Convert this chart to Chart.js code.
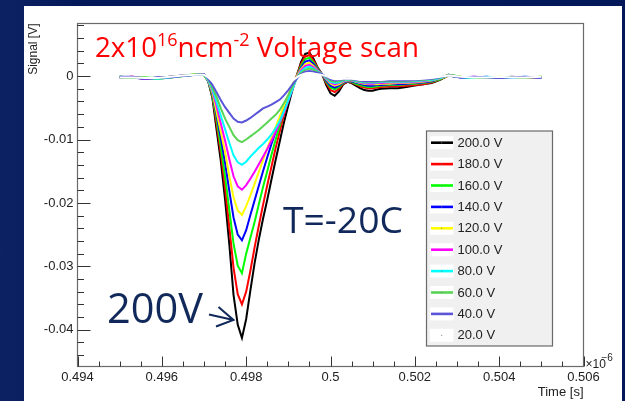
<!DOCTYPE html>
<html>
<head>
<meta charset="utf-8">
<title>Voltage scan</title>
<script src="https://cdn.jsdelivr.net/npm/chart.js@4.4.0/dist/chart.umd.min.js"></script>
<style>
  html, body { margin: 0; padding: 0; background: #03195a; }
  #wrap {
    position: relative; width: 625px; height: 401px; overflow: hidden;
    background: linear-gradient(90deg, #0c2262 0%, #03195a 12%, #021858 100%);
  }
  canvas { position: absolute; left: 0; top: 0; }
</style>
</head>
<body>
<div id="wrap"><canvas id="scanChart" width="625" height="401"></canvas></div>
<script>
// time axis (x10^-6 s), shared by every curve
var times = [0.4950, 0.4953, 0.4956, 0.4959, 0.4962, 0.4965, 0.4968,
  0.4970, 0.4971, 0.4972, 0.4973, 0.4974, 0.4975, 0.4976, 0.4977, 0.4978, 0.4979,
  0.4980, 0.4981, 0.4982, 0.4983, 0.4984, 0.4985, 0.4986, 0.4987, 0.4988, 0.4989, 0.4990, 0.4991, 0.4992,
  0.4993, 0.4994, 0.4995, 0.4996, 0.4997, 0.4998,
  0.4999, 0.5000, 0.5001, 0.5002, 0.5003, 0.5004, 0.5005, 0.5006, 0.5007, 0.5008, 0.5009, 0.5010, 0.5011, 0.5012,
  0.5014, 0.5016, 0.5018, 0.5020, 0.5022, 0.5024, 0.5026, 0.5028, 0.5031, 0.5034, 0.5037, 0.5040, 0.5043, 0.5046, 0.5050];

// signal [V] for each bias voltage
var v200 = [-0.0001, -0.0002, -0.0004, -0.0003, -0.0001, 0.0000, 0.0002,
  0.0002,
  -0.0008, -0.0035, -0.0085, -0.0135, -0.0195, -0.0265, -0.0345, -0.0392, -0.0413,
  -0.0383, -0.0338, -0.0295, -0.0258, -0.0225, -0.0195, -0.0163, -0.0132, -0.0102, -0.0072, -0.0046, -0.0021, 0.0000,
  0.0022, 0.0035, 0.0037, 0.0027, 0.0013, 0.0003,
  -0.0014, -0.0027, -0.0031, -0.0024, -0.0013, -0.0009, -0.0011, -0.0015, -0.0019, -0.0022, -0.0023, -0.0023, -0.0021, -0.0020,
  -0.0019, -0.0019, -0.0017, -0.0015, -0.0013, -0.0011, -0.0006, 0.0001, -0.0002, -0.0003, -0.0002, -0.0003, -0.0002, -0.0003, -0.0002];
var v180 = [-0.0002, -0.0001, -0.0003, -0.0004, -0.0002, 0.0001, 0.0002,
  0.0002,
  -0.0007, -0.0032, -0.0076, -0.0122, -0.0176, -0.0238, -0.0302, -0.0344, -0.0360,
  -0.0340, -0.0307, -0.0270, -0.0236, -0.0203, -0.0172, -0.0143, -0.0113, -0.0086, -0.0060, -0.0037, -0.0016, 0.0001,
  0.0019, 0.0031, 0.0033, 0.0024, 0.0012, 0.0003,
  -0.0011, -0.0022, -0.0025, -0.0020, -0.0012, -0.0009, -0.0010, -0.0013, -0.0016, -0.0018, -0.0019, -0.0019, -0.0018, -0.0017,
  -0.0016, -0.0016, -0.0015, -0.0014, -0.0013, -0.0010, -0.0005, 0.0001, -0.0002, -0.0002, -0.0003, -0.0002, -0.0002, -0.0003, -0.0002];
var v160 = [-0.0001, -0.0003, -0.0002, -0.0004, -0.0002, 0.0000, 0.0003,
  0.0002,
  -0.0008, -0.0031, -0.0068, -0.0112, -0.0159, -0.0211, -0.0264, -0.0299, -0.0311,
  -0.0280, -0.0255, -0.0230, -0.0202, -0.0175, -0.0150, -0.0124, -0.0100, -0.0077, -0.0055, -0.0034, -0.0015, 0.0000,
  0.0016, 0.0027, 0.0029, 0.0021, 0.0011, 0.0003,
  -0.0009, -0.0018, -0.0021, -0.0017, -0.0011, -0.0008, -0.0009, -0.0012, -0.0014, -0.0016, -0.0017, -0.0017, -0.0016, -0.0015,
  -0.0014, -0.0014, -0.0013, -0.0012, -0.0011, -0.0009, -0.0005, 0.0002, -0.0001, -0.0003, -0.0002, -0.0002, -0.0003, -0.0002, -0.0001];
var v140 = [-0.0002, -0.0002, -0.0004, -0.0002, -0.0001, 0.0001, 0.0002,
  0.0003,
  -0.0008, -0.0028, -0.0062, -0.0098, -0.0137, -0.0181, -0.0223, -0.0250, -0.0259,
  -0.0243, -0.0219, -0.0196, -0.0173, -0.0150, -0.0128, -0.0107, -0.0088, -0.0069, -0.0050, -0.0032, -0.0015, 0.0000,
  0.0013, 0.0023, 0.0025, 0.0019, 0.0010, 0.0003,
  -0.0007, -0.0015, -0.0018, -0.0015, -0.0010, -0.0008, -0.0008, -0.0010, -0.0012, -0.0014, -0.0015, -0.0015, -0.0014, -0.0014,
  -0.0013, -0.0013, -0.0012, -0.0011, -0.0010, -0.0008, -0.0004, 0.0002, -0.0002, -0.0002, -0.0001, -0.0003, -0.0002, -0.0002, -0.0002];
var v120 = [-0.0001, -0.0003, -0.0003, -0.0003, -0.0002, 0.0000, 0.0003,
  0.0002,
  -0.0007, -0.0026, -0.0057, -0.0088, -0.0120, -0.0158, -0.0191, -0.0212, -0.0219,
  -0.0205, -0.0188, -0.0170, -0.0151, -0.0132, -0.0114, -0.0097, -0.0080, -0.0063, -0.0046, -0.0030, -0.0014, 0.0000,
  0.0011, 0.0019, 0.0021, 0.0016, 0.0009, 0.0003,
  -0.0005, -0.0012, -0.0015, -0.0013, -0.0009, -0.0007, -0.0007, -0.0009, -0.0011, -0.0012, -0.0013, -0.0013, -0.0013, -0.0012,
  -0.0012, -0.0011, -0.0011, -0.0010, -0.0009, -0.0007, -0.0004, 0.0001, -0.0001, -0.0002, -0.0003, -0.0001, -0.0002, -0.0003, -0.0001];
var v100 = [-0.0002, -0.0001, -0.0004, -0.0003, -0.0001, 0.0001, 0.0002,
  0.0003,
  -0.0006, -0.0023, -0.0048, -0.0075, -0.0102, -0.0131, -0.0158, -0.0174, -0.0179,
  -0.0172, -0.0162, -0.0151, -0.0139, -0.0127, -0.0115, -0.0102, -0.0088, -0.0073, -0.0057, -0.0039, -0.0020, -0.0002,
  0.0009, 0.0016, 0.0018, 0.0014, 0.0008, 0.0003,
  -0.0004, -0.0010, -0.0013, -0.0011, -0.0008, -0.0006, -0.0007, -0.0008, -0.0010, -0.0011, -0.0012, -0.0012, -0.0011, -0.0011,
  -0.0010, -0.0010, -0.0010, -0.0009, -0.0008, -0.0006, -0.0003, 0.0002, -0.0002, -0.0001, -0.0002, -0.0003, -0.0001, -0.0002, -0.0002];
var v80 = [-0.0001, -0.0002, -0.0003, -0.0004, -0.0002, 0.0000, 0.0002,
  0.0002,
  -0.0006, -0.0021, -0.0041, -0.0063, -0.0084, -0.0105, -0.0125, -0.0136, -0.0140,
  -0.0135, -0.0127, -0.0120, -0.0113, -0.0107, -0.0100, -0.0092, -0.0082, -0.0070, -0.0055, -0.0038, -0.0020, -0.0003,
  0.0007, 0.0013, 0.0015, 0.0012, 0.0007, 0.0003,
  -0.0003, -0.0009, -0.0011, -0.0010, -0.0007, -0.0006, -0.0006, -0.0008, -0.0009, -0.0010, -0.0010, -0.0010, -0.0010, -0.0009,
  -0.0009, -0.0009, -0.0009, -0.0008, -0.0007, -0.0006, -0.0003, 0.0001, -0.0002, -0.0003, -0.0001, -0.0002, -0.0003, -0.0001, -0.0002];
var v60 = [-0.0002, -0.0003, -0.0002, -0.0003, -0.0001, 0.0001, 0.0003,
  0.0003,
  -0.0004, -0.0018, -0.0033, -0.0051, -0.0067, -0.0080, -0.0093, -0.0101, -0.0104,
  -0.0100, -0.0095, -0.0090, -0.0085, -0.0079, -0.0073, -0.0067, -0.0061, -0.0053, -0.0042, -0.0030, -0.0016, -0.0003,
  0.0005, 0.0010, 0.0012, 0.0010, 0.0006, 0.0003,
  -0.0002, -0.0007, -0.0009, -0.0008, -0.0006, -0.0005, -0.0006, -0.0007, -0.0008, -0.0009, -0.0009, -0.0009, -0.0009, -0.0008,
  -0.0008, -0.0008, -0.0008, -0.0007, -0.0006, -0.0005, -0.0002, 0.0002, -0.0001, -0.0002, -0.0003, -0.0002, -0.0001, -0.0003, -0.0001];
var v40 = [-0.0001, -0.0001, -0.0004, -0.0002, -0.0002, 0.0000, 0.0002,
  0.0003,
  -0.0004, -0.0014, -0.0026, -0.0038, -0.0049, -0.0058, -0.0067, -0.0072, -0.0073,
  -0.0070, -0.0066, -0.0061, -0.0056, -0.0051, -0.0048, -0.0045, -0.0041, -0.0037, -0.0030, -0.0022, -0.0013, -0.0004,
  0.0003, 0.0007, 0.0008, 0.0007, 0.0005, 0.0003,
  -0.0001, -0.0005, -0.0007, -0.0006, -0.0005, -0.0004, -0.0005, -0.0006, -0.0007, -0.0008, -0.0008, -0.0008, -0.0008, -0.0007,
  -0.0007, -0.0007, -0.0007, -0.0006, -0.0005, -0.0004, -0.0002, 0.0001, -0.0002, -0.0001, -0.0002, -0.0003, -0.0002, -0.0001, -0.0002];
var v20 = [-0.0002, -0.0002, -0.0003, -0.0003, -0.0001, 0.0001, 0.0002,
  0.0002,
  -0.0002, -0.0008, -0.0014, -0.0021, -0.0027, -0.0032, -0.0037, -0.0039, -0.0040,
  -0.0039, -0.0037, -0.0035, -0.0032, -0.0030, -0.0028, -0.0026, -0.0024, -0.0021, -0.0017, -0.0012, -0.0007, -0.0002,
  0.0002, 0.0004, 0.0005, 0.0004, 0.0003, 0.0002,
  0.0000, -0.0003, -0.0005, -0.0005, -0.0004, -0.0004, -0.0004, -0.0005, -0.0006, -0.0006, -0.0006, -0.0006, -0.0006, -0.0006,
  -0.0005, -0.0005, -0.0005, -0.0005, -0.0004, -0.0003, -0.0001, 0.0001, -0.0001, -0.0002, -0.0002, -0.0001, -0.0002, -0.0002, -0.0001];

var seriesLabels = ["200.0 V", "180.0 V", "160.0 V", "140.0 V", "120.0 V", "100.0 V", "80.0 V", "60.0 V", "40.0 V", "20.0 V"];
var seriesValues = [v200, v180, v160, v140, v120, v100, v80, v60, v40, v20];
var seriesColors = ["#000000", "#ff0000", "#00ff00", "#0000ff", "#ffff00", "#ff00ff", "#00ffff", "#59d454", "#5954d8", "#ffffff"];

// axis ticks
var xTickValues = [0.494, 0.496, 0.498, 0.500, 0.502, 0.504, 0.506];
var xTickLabels = ["0.494", "0.496", "0.498", "0.5", "0.502", "0.504", "0.506"];
var yTickValues = [0, -0.01, -0.02, -0.03, -0.04];
var yTickLabels = ["0", "-0.01", "-0.02", "-0.03", "-0.04"];

var NAVY = "#10285a";
var AXIS_FONT = "Liberation Sans, Arial, sans-serif";

// draws text made of normal and superscript pieces, scaled to a given width
function drawRich(ctx, parts, x, baseline, size, width, color) {
  function measure(s) {
    var w = 0;
    parts.forEach(function (p) {
      ctx.font = (p[1] ? s * 0.65 : s) + "px 'Open Sans'";
      w += ctx.measureText(p[0]).width;
    });
    return w;
  }
  var s = size * width / measure(size);
  ctx.fillStyle = color;
  ctx.textAlign = "left";
  ctx.textBaseline = "alphabetic";
  parts.forEach(function (p) {
    ctx.font = (p[1] ? s * 0.65 : s) + "px 'Open Sans'";
    ctx.fillText(p[0], x, p[1] ? baseline - s * 0.4 : baseline);
    x += ctx.measureText(p[0]).width;
  });
}

// ROOT-like frame, inner ticks, legend and slide captions
var rootPad = {
  id: "rootPad",
  beforeDraw: function (chart) {
    var ctx = chart.ctx;
    ctx.save();
    ctx.fillStyle = "#ffffff";
    ctx.fillRect(24, 6, 598, 395);
    ctx.restore();
  },
  afterDraw: function (chart) {
    var ctx = chart.ctx;
    var a = chart.chartArea;
    var xs = chart.scales.x, ys = chart.scales.y;
    ctx.save();

    // frame
    ctx.strokeStyle = "#6a6a6a";
    ctx.lineWidth = 1.2;
    ctx.strokeRect(a.left, a.top, a.right - a.left, a.bottom - a.top);

    // ticks pointing into the frame
    ctx.strokeStyle = "#333";
    ctx.lineWidth = 1;
    ctx.beginPath();
    for (var i = 0; i <= 24; i++) {
      var px = Math.round(xs.getPixelForValue(0.494 + i * 0.0005)) + 0.5;
      var lx = i % 4 === 0 ? 10 : 5;
      ctx.moveTo(px, a.bottom);
      ctx.lineTo(px, a.bottom - lx);
    }
    for (var j = -22; j <= 4; j++) {
      var py = Math.round(ys.getPixelForValue(j * 0.002)) + 0.5;
      var ly = j % 5 === 0 ? 13 : 6.5;
      ctx.moveTo(a.left, py);
      ctx.lineTo(a.left + ly, py);
    }
    ctx.stroke();

    // axis titles and exponent
    ctx.fillStyle = "#222";
    ctx.font = "13px " + AXIS_FONT;
    ctx.textAlign = "right";
    ctx.textBaseline = "middle";
    ctx.fillText("Time [s]", a.right, 392);
    ctx.font = "12px " + AXIS_FONT;
    ctx.textAlign = "left";
    ctx.textBaseline = "alphabetic";
    ctx.fillText("\u00d710", a.right + 2, 368);
    ctx.font = "10px " + AXIS_FONT;
    ctx.fillText("\u22126", a.right + 18, 361);
    ctx.save();
    ctx.translate(34, a.top);
    ctx.rotate(-Math.PI / 2);
    ctx.font = "12px " + AXIS_FONT;
    ctx.textAlign = "right";
    ctx.textBaseline = "middle";
    ctx.fillText("Signal [V]", 0, 0);
    ctx.restore();

    // legend box
    var bx = 426.5, by = 131, bw = 126, bh = 215;
    ctx.fillStyle = "#f0f0f0";
    ctx.fillRect(bx, by, bw, bh);
    ctx.strokeStyle = "#6a6a6a";
    ctx.lineWidth = 1.2;
    ctx.strokeRect(bx, by, bw, bh);
    chart.data.datasets.forEach(function (ds, k) {
      var cy = 142.7 + k * 21.4;
      ctx.fillStyle = "#ffffff";
      ctx.fillRect(430, cy - 6.5, 23.5, 13);
      ctx.strokeStyle = ds.borderColor;
      ctx.lineWidth = 2.6;
      ctx.beginPath();
      ctx.moveTo(431, cy);
      ctx.lineTo(453, cy);
      ctx.stroke();
      ctx.fillStyle = "#777";
      ctx.fillRect(441.2, cy - 0.5, 1, 1);
      ctx.fillStyle = "#222";
      ctx.font = "13px " + AXIS_FONT;
      ctx.textAlign = "left";
      ctx.textBaseline = "middle";
      ctx.fillText(ds.label, 457.5, cy + 0.5);
    });

    // slide captions
    drawRich(ctx, [["2x10", false], ["16", true], ["ncm", false], ["-2", true], [" Voltage scan", false]],
      95, 56.7, 25, 324, "#ff0000");
    drawRich(ctx, [["T=-20C", false]], 283, 233.3, 37, 120, NAVY);
    drawRich(ctx, [["200V", false]], 107, 322.7, 41, 96, NAVY);

    // arrow to the 200 V minimum
    ctx.strokeStyle = NAVY;
    ctx.lineWidth = 2;
    ctx.beginPath();
    ctx.moveTo(209, 314.5);
    ctx.lineTo(233.5, 320);
    ctx.moveTo(218.5, 307);
    ctx.lineTo(233.5, 320);
    ctx.lineTo(216, 326.5);
    ctx.stroke();

    ctx.restore();
  }
};

var datasets = seriesValues.map(function (vals, k) {
  return {
    label: seriesLabels[k],
    data: times.map(function (t, i) { return { x: t, y: vals[i] }; }),
    borderColor: seriesColors[k],
    borderWidth: 2,
    pointRadius: 0,
    fill: false,
    tension: 0,
    order: seriesValues.length - 1 - k // last curve drawn on top, as in ROOT
  };
});

var ctx = document.getElementById("scanChart").getContext("2d");
var scanChart = new Chart(ctx, {
  type: "line",
  data: { datasets: datasets },
  options: {
    responsive: false,
    animation: false,
    devicePixelRatio: 1,
    layout: { padding: { left: 0, top: 23.5, right: 41.5, bottom: 0 } },
    plugins: { legend: { display: false }, tooltip: { enabled: false } },
    scales: {
      x: {
        type: "linear",
        min: 0.494,
        max: 0.506,
        afterFit: function (s) { s.height = 34.5; },
        afterBuildTicks: function (s) {
          s.ticks = xTickValues.map(function (v) { return { value: v }; });
        },
        ticks: {
          autoSkip: false,
          maxRotation: 0,
          padding: 3,
          color: "#222",
          font: { family: AXIS_FONT, size: 13 },
          callback: function (v, i) { return xTickLabels[i]; }
        },
        grid: { display: false, drawTicks: false },
        border: { display: false }
      },
      y: {
        type: "linear",
        min: -0.0458,
        max: 0.0083,
        afterFit: function (s) { s.width = 77.5; },
        afterBuildTicks: function (s) {
          s.ticks = yTickValues.map(function (v) { return { value: v }; });
        },
        ticks: {
          autoSkip: false,
          padding: 4,
          color: "#222",
          font: { family: AXIS_FONT, size: 13 },
          callback: function (v, i) { return yTickLabels[i]; }
        },
        grid: { display: false, drawTicks: false },
        border: { display: false }
      }
    }
  },
  plugins: [rootPad]
});
</script>
</body>
</html>
